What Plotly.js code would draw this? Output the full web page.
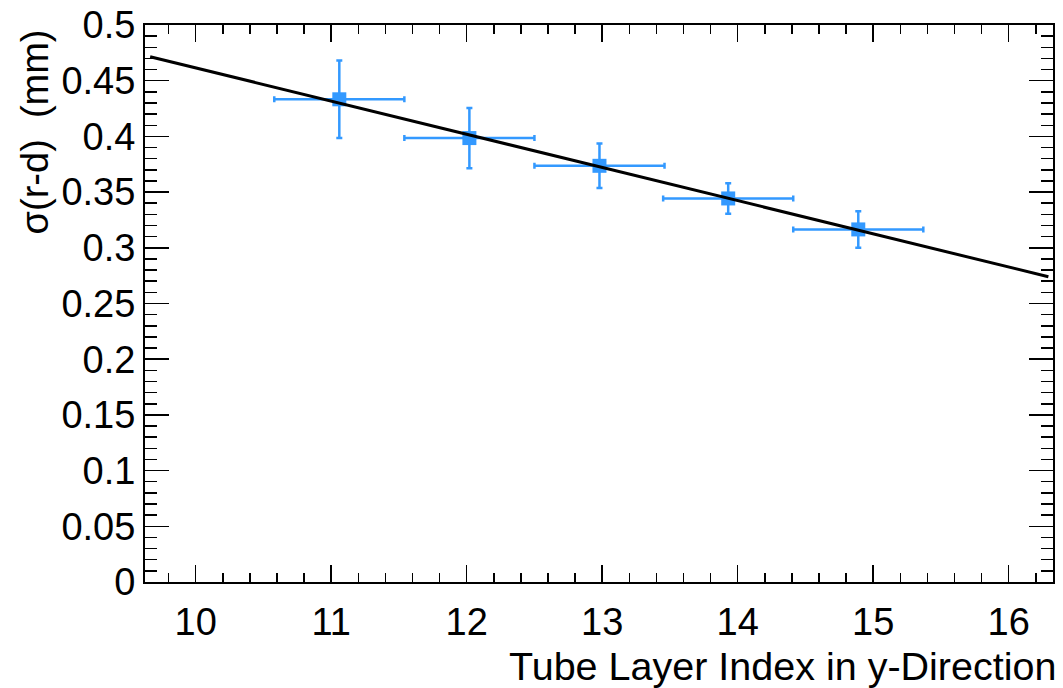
<!DOCTYPE html>
<html>
<head>
<meta charset="utf-8">
<script src="https://cdn.plot.ly/plotly-3.0.1.min.js"></script>
<style>html,body{margin:0;padding:0;background:#fff;}#chart{width:1063px;height:688px;}</style>
</head>
<body>
<div id="chart"></div>
<script>
// Data
const layerIndex = [11.06, 12.02, 12.98, 13.93, 14.89];
const layerHalfWidth = [0.48, 0.48, 0.48, 0.48, 0.48];
const sigmaRD = [0.4333, 0.3985, 0.3736, 0.3443, 0.3165];
const sigmaErr = [0.0348, 0.027, 0.020, 0.0137, 0.0164];
// Linear fit: sigma = p0 + p1 * x over fit range
const fitParams = [0.7594, -0.02979];
const fitRange = [9.664, 16.293];

const xTickVals = [10, 11, 12, 13, 14, 15, 16];
const yTickVals = [0, 0.05, 0.1, 0.15, 0.2, 0.25, 0.3, 0.35, 0.4, 0.45, 0.5];
const yTickText = ['0', '0.05', '0.1', '0.15', '0.2', '0.25', '0.3', '0.35', '0.4', '0.45', '0.5'];

const fitX = fitRange.slice();
const fitY = fitX.map(x => fitParams[0] + fitParams[1] * x);

const blue = 'rgb(51,153,255)';
const family = 'Liberation Sans, Arial, Helvetica, sans-serif';
const tickFont = {family: family, size: 38, color: '#000'};
const titleFont = {family: family, size: 39.5, color: '#000'};

const traces = [
  {
    type: 'scatter', mode: 'markers',
    x: layerIndex, y: sigmaRD,
    marker: {symbol: 'square', size: 14, color: blue},
    error_x: {type: 'data', array: layerHalfWidth, color: blue, thickness: 2.5, width: 3},
    error_y: {type: 'data', array: sigmaErr, color: blue, thickness: 2.5, width: 3},
    hoverinfo: 'x+y', showlegend: false
  },
  {
    type: 'scatter', mode: 'lines',
    x: fitX, y: fitY,
    line: {color: '#000', width: 3},
    showlegend: false
  }
];

const layout = {
  width: 1063, height: 688,
  margin: {l: 145, r: 10, t: 25, b: 106},
  paper_bgcolor: '#fff', plot_bgcolor: '#fff',
  font: tickFont,
  xaxis: {
    range: [9.626, 16.327],
    tickmode: 'array', tickvals: xTickVals,
    ticks: 'inside', ticklen: 17, tickwidth: 1.5, tickcolor: '#000',
    minor: {dtick: 0.2, tick0: 0, ticks: 'inside', ticklen: 9, tickwidth: 1.5, tickcolor: '#000', showgrid: false},
    showline: true, linewidth: 2, linecolor: '#000', mirror: 'ticks',
    showgrid: false, zeroline: false,
    tickfont: tickFont, ticklabelstandoff: 5
  },
  yaxis: {
    range: [0, 0.5],
    tickmode: 'array', tickvals: yTickVals, ticktext: yTickText,
    ticks: 'inside', ticklen: 24, tickwidth: 1.5, tickcolor: '#000',
    minor: {dtick: 0.01, tick0: 0, ticks: 'inside', ticklen: 12, tickwidth: 1.5, tickcolor: '#000', showgrid: false},
    showline: true, linewidth: 2, linecolor: '#000', mirror: 'ticks',
    showgrid: false, zeroline: false,
    tickfont: tickFont, ticklabelstandoff: 0
  },
  annotations: [
    {
      text: 'Tube Layer Index in y-Direction',
      xref: 'paper', yref: 'paper', x: 1.0055, y: -0.15,
      xanchor: 'right', yanchor: 'middle', showarrow: false, font: titleFont
    },
    {
      text: 'σ(r-d)  (mm)',
      xref: 'paper', yref: 'paper', x: -0.121, y: 0.995,
      xanchor: 'center', yanchor: 'top', textangle: -90, showarrow: false, font: tickFont
    }
  ]
};

Plotly.newPlot('chart', traces, layout, {displayModeBar: false, staticPlot: true});
</script>
</body>
</html>
